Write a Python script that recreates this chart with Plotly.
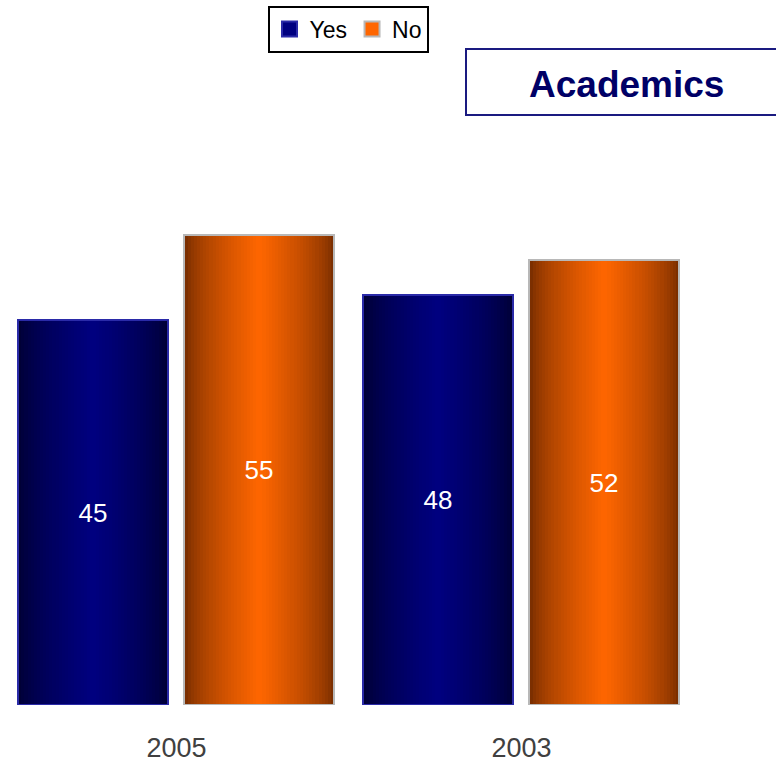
import plotly.graph_objects as go

# ---- data ----
categories = ["2005", "2003"]
yes_values = [45, 48]
no_values = [55, 52]
series_names = ["Yes", "No"]
title_text = "Academics"

# ---- styling ----
N_STRIPS = 48
BAR_W = 0.434
OFFSETS = {"Yes": -0.459, "No": 0.023}
EDGE = {"Yes": (0, 0, 0x30), "No": (0x70, 0x2a, 0x00)}
CENTER = {"Yes": (0, 0, 0x80), "No": (0xff, 0x66, 0x00)}
OUTLINE = {"Yes": "#2a2aa8", "No": "#b8b8b8"}
SWATCH = {"Yes": "#000080", "No": "#ff6600"}

xpos = list(range(len(categories)))


def mix(a, b, f):
    return "rgb(%d,%d,%d)" % tuple(round(a[i] + (b[i] - a[i]) * f) for i in range(3))


fig = go.Figure()

for name, vals in zip(series_names, [yes_values, no_values]):
    xs, ys, offs, widths, cols = [], [], [], [], []
    sw = BAR_W / N_STRIPS
    for xi, v in zip(xpos, vals):
        for k in range(N_STRIPS):
            t = (k + 0.5) / N_STRIPS
            f = (1 - abs(2 * t - 1)) ** 0.65
            xs.append(xi)
            ys.append(v)
            offs.append(OFFSETS[name] + k * sw)
            widths.append(sw * 1.02)
            cols.append(mix(EDGE[name], CENTER[name], f))
    fig.add_trace(go.Bar(
        x=xs, y=ys, offset=offs, width=widths,
        marker=dict(color=cols, line=dict(width=0)),
        showlegend=False, hoverinfo="skip",
    ))
    # outline + label
    fig.add_trace(go.Bar(
        x=xpos, y=vals, offset=OFFSETS[name], width=BAR_W,
        marker=dict(color="rgba(0,0,0,0)", line=dict(color=OUTLINE[name], width=2)),
        text=[str(v) for v in vals], textposition="inside",
        insidetextanchor="middle", constraintext="none",
        textfont=dict(color="white", size=26, family="Liberation Sans"),
        showlegend=False, hoverinfo="skip",
    ))

# legend entries
for name in series_names:
    fig.add_trace(go.Scatter(
        x=[None], y=[None], name=name, mode="markers",
        marker=dict(symbol="square", size=15, color=SWATCH[name],
                    line=dict(color=OUTLINE[name], width=2)),
    ))

L, R, T, B = 4, 82, 192, 61
W, H = 776, 766
pw, ph = W - L - R, H - T - B


def px_to_paper_x(px):
    return (px - L) / pw


def px_to_paper_y(py):
    return (H - B - py) / ph


fig.add_shape(type="rect", xref="paper", yref="paper",
              x0=px_to_paper_x(466), x1=px_to_paper_x(790),
              y0=px_to_paper_y(115), y1=px_to_paper_y(49),
              line=dict(color="#1a1a80", width=2), fillcolor="white")
fig.add_annotation(xref="paper", yref="paper",
                   x=px_to_paper_x(626), y=px_to_paper_y(84),
                   text="<b>%s</b>" % title_text, showarrow=False,
                   font=dict(family="Liberation Sans", size=37, color="#000066"),
                   xanchor="center", yanchor="middle")

fig.update_layout(
    width=W, height=H,
    margin=dict(l=L, r=R, t=T, b=B, pad=0),
    barmode="overlay",
    plot_bgcolor="white", paper_bgcolor="white",
    xaxis=dict(range=[-0.5, 1.5], tickvals=xpos, ticktext=categories,
               showgrid=False, zeroline=False, showline=False, ticks="",
               tickfont=dict(family="Liberation Sans", size=27, color="#404040"),
               ticklabelstandoff=24, fixedrange=True),
    yaxis=dict(range=[0, 60], visible=False, fixedrange=True),
    legend=dict(orientation="h", xref="container", yref="container",
                x=348 / W, y=1 - 29 / H, xanchor="center", yanchor="middle",
                bordercolor="black", borderwidth=2, bgcolor="white",
                font=dict(family="Liberation Sans", size=23, color="black"),
                itemwidth=30, tracegroupgap=0, itemsizing="trace"),
    showlegend=True,
    bargap=0,
)

fig.write_html("out.html", config={"displayModeBar": False},
               post_script="document.body.style.margin='0';document.body.style.overflow='hidden';")
